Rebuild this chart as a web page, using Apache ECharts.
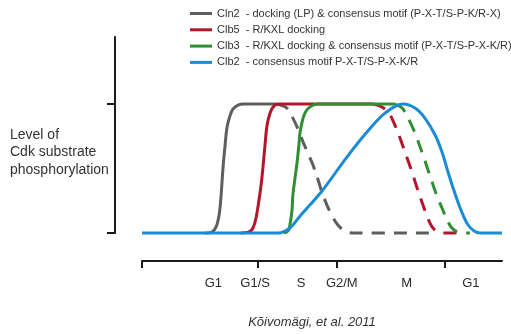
<!DOCTYPE html>
<html>
<head>
<meta charset="utf-8">
<script src="https://cdn.jsdelivr.net/npm/echarts@6/dist/echarts.min.js"></script>
<style>
  html, body { margin: 0; padding: 0; background: #fff; }
  #chart { width: 511px; height: 334px; }
</style>
</head>
<body>
<div id="chart"></div>
<script>
// Time runs 0..120 (arbitrary units) across one cell cycle;
// level is % of maximal Cdk substrate phosphorylation.
const cln2Rise = [[21,0],[23.3,0.8],[24.7,4.7],[25.7,14],[26.3,27.1],[27,50.4],[27.7,68.2],[28.3,81.4],[29.3,90.7],[30.3,96.1],[32,99.2],[34,100],[44.7,100]];
const cln2Fall = [[44.7,100],[48.3,96.9],[50.3,89.1],[52,80.6],[53.7,70.5],[55.3,62],[57,52.7],[58.7,41.1],[60.3,29.5],[62.7,16.3],[65.3,6.2],[68.3,0.8],[71.3,0],[96,0]];

const clb5Rise = [[33,0],[35.7,0.8],[37,3.9],[38,11.6],[39,25.6],[39.7,37.2],[40.3,50.4],[41,68.2],[41.7,83.7],[42.7,93],[43.7,97.7],[45.3,100],[77,100]];
const clb5Fall = [[77,100],[80,97.7],[82.3,93],[84.3,83.7],[86,73.6],[88,60.5],[90,47.3],[91.7,34.9],[93.3,24],[95,13.2],[96.7,4.7],[98.7,0.8],[101.3,0],[106.7,0]];

const clb3Rise = [[47.3,0],[48.7,1.6],[49.3,6.2],[50,17.8],[50.3,29.5],[51,42.6],[51.7,55],[52.3,68.2],[52.7,78.3],[53.7,89.1],[54.7,94.6],[56,97.7],[58.3,100],[84.3,100]];
const clb3Fall = [[84.3,100],[86.7,96.9],[88.7,89.1],[91,77.5],[93.3,62.8],[95,51.2],[96.7,39.5],[98.3,28.7],[100,19.4],[101.7,10.1],[103.3,3.9],[105.3,0.8],[109.3,0]];

const clb2 = [[0,0],[45.3,0],[49.3,3.9],[52.7,13.2],[60,32.6],[68.3,58.9],[75,78.3],[81,93],[87,100],[91,96.9],[94.3,89.1],[97.7,76],[100,62.8],[102,47.3],[103.7,34.9],[105.3,24],[107,14],[108.7,6.2],[110.7,1.6],[112.7,0],[120,0]];

const seriesNames = [
  'Cln2  - docking (LP) & consensus motif (P-X-T/S-P-K/R-X)',
  'Clb5  - R/KXL docking',
  'Clb3  - R/KXL docking & consensus motif (P-X-T/S-P-X-K/R)',
  'Clb2  - consensus motif P-X-T/S-P-X-K/R'
];
const seriesColors = ['#5e5e5e', '#b3162a', '#2f8f32', '#1b8bd4'];

// cell-cycle axis: boundary ticks and phase labels between them
const phaseTicks = [0, 38.7, 65, 101];
const phaseLabelPos = [23.8, 37.7, 53, 66.6, 88.2, 109.6];
const phaseLabels = ['G1', 'G1/S', 'S', 'G2/M', 'M', 'G1'];

const levelTicks = [0, 100];

function curve(name, data, color, dashed) {
  return {
    type: 'line',
    name: name,
    data: data,
    xAxisIndex: 0,
    yAxisIndex: 0,
    smooth: 0.35,
    showSymbol: false,
    symbol: 'none',
    clip: false,
    silent: true,
    color: color,
    lineStyle: { color: color, width: 3, type: dashed ? [13, 9] : 'solid', cap: 'butt' },
    z: 2
  };
}

const chart = echarts.init(document.getElementById('chart'), null, { renderer: 'canvas' });

chart.setOption({
  animation: false,
  backgroundColor: '#ffffff',
  textStyle: { fontFamily: 'Liberation Sans, Arial, sans-serif' },
  legend: {
    data: seriesNames,
    orient: 'vertical',
    left: 190,
    top: 8,
    padding: 0,
    itemWidth: 22,
    itemHeight: 3,
    itemGap: 5.3,
    icon: 'rect',
    selectedMode: false,
    textStyle: { fontSize: 11, color: '#333', fontFamily: 'Liberation Sans, Arial, sans-serif' }
  },
  grid: [
    { left: 142, right: 9, top: 37, bottom: 101 },
    { left: 142, right: 9, top: 240, bottom: 73 }
  ],
  xAxis: [
    { gridIndex: 0, type: 'value', min: 0, max: 120, show: false },
    {
      gridIndex: 1, type: 'value', min: 0, max: 120,
      axisLine: { show: true, onZero: false, lineStyle: { color: '#1a1a1a', width: 2 } },
      axisTick: { show: true, length: 7, lineStyle: { color: '#1a1a1a', width: 2 }, customValues: phaseTicks },
      axisLabel: {
        show: true, margin: 16, fontSize: 13, color: '#2a2a2a',
        customValues: phaseLabelPos,
        formatter: function (v) {
          const i = phaseLabelPos.indexOf(v);
          return i >= 0 ? phaseLabels[i] : '';
        }
      },
      splitLine: { show: false }
    }
  ],
  yAxis: [
    {
      gridIndex: 0, type: 'value', min: 0, max: 152, offset: 27,
      axisLine: { show: true, onZero: false, lineStyle: { color: '#1a1a1a', width: 2 } },
      axisTick: { show: true, length: 8, lineStyle: { color: '#1a1a1a', width: 2 }, customValues: levelTicks },
      axisLabel: { show: false },
      splitLine: { show: false }
    },
    { gridIndex: 1, type: 'value', min: 0, max: 1, show: false }
  ],
  graphic: [
    {
      type: 'text', left: 10, top: 126,
      style: {
        text: 'Level of\nCdk substrate\nphosphorylation',
        fontSize: 14, lineHeight: 17.5, fill: '#333',
        fontFamily: 'Liberation Sans, Arial, sans-serif'
      }
    },
    {
      type: 'text', x: 312, y: 322,
      style: {
        text: 'Kõivomägi, et al. 2011',
        fontSize: 13, fontStyle: 'italic', fill: '#333',
        align: 'center', verticalAlign: 'middle',
        fontFamily: 'Liberation Sans, Arial, sans-serif'
      }
    }
  ],
  series: [
    curve(seriesNames[0], cln2Rise, seriesColors[0], false),
    curve('Cln2 decline', cln2Fall, seriesColors[0], true),
    curve(seriesNames[1], clb5Rise, seriesColors[1], false),
    curve('Clb5 decline', clb5Fall, seriesColors[1], true),
    curve(seriesNames[2], clb3Rise, seriesColors[2], false),
    curve('Clb3 decline', clb3Fall, seriesColors[2], true),
    curve(seriesNames[3], clb2, seriesColors[3], false)
  ]
});
</script>
</body>
</html>
